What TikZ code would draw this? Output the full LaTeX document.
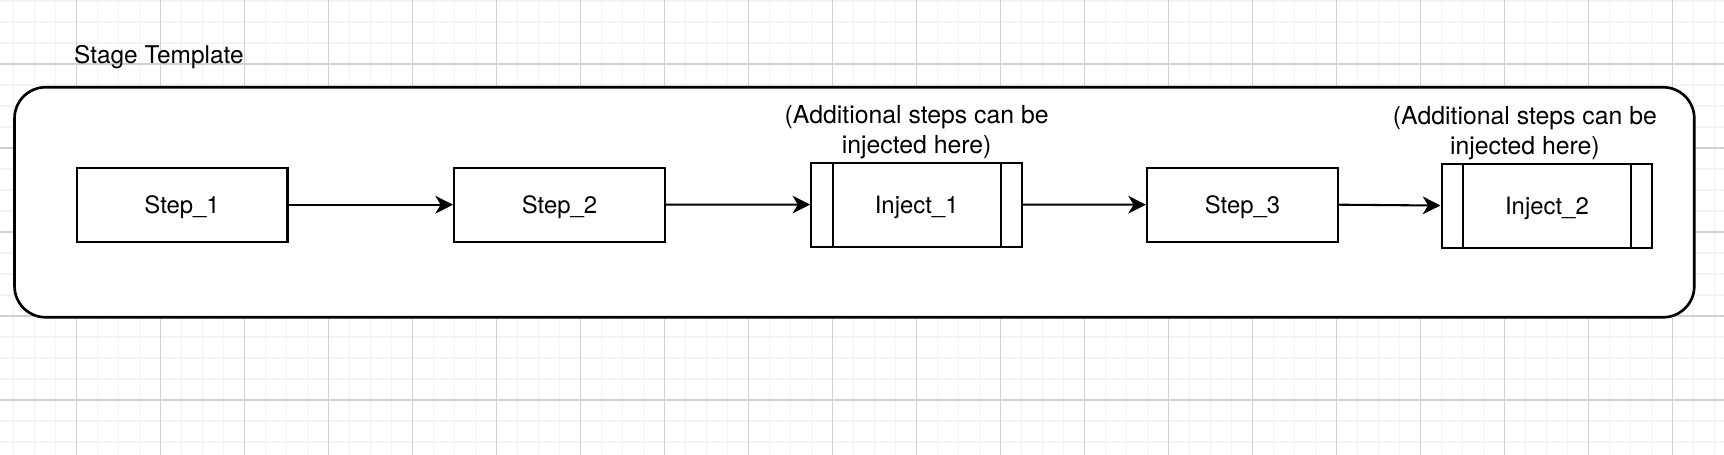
\documentclass[tikz,border=0pt]{standalone}
\usepackage{fontspec}
\setmainfont{TeX Gyre Heros}
\usetikzlibrary{positioning,arrows.meta}
\definecolor{gridmajor}{RGB}{208,208,208}
\definecolor{gridminor}{RGB}{243,243,243}

\begin{document}
\begin{tikzpicture}[
  font=\fontsize{8.26pt}{10.16pt}\selectfont,
  stagebox/.style={draw, line width=0.9pt, fill=white, rounded corners=0.37cm, minimum width=19.997cm, minimum height=2.738cm, inner sep=0pt},
  stepbox/.style={draw, line width=0.7pt, fill=white, minimum width=2.51cm, minimum height=0.88cm, inner sep=0pt, text depth=0pt,
    font=\fontsize{8.1pt}{10pt}\selectfont},
  injbox/.style={stepbox, minimum height=1.0cm,
    path picture={
      \draw[line width=0.7pt] ([xshift=0.255cm]path picture bounding box.north west) -- ([xshift=0.255cm]path picture bounding box.south west);
      \draw[line width=0.7pt] ([xshift=-0.255cm]path picture bounding box.north east) -- ([xshift=-0.255cm]path picture bounding box.south east);}},
  note/.style={align=center, inner sep=0pt, font=\fontsize{8.4pt}{9.96pt}\selectfont},
  flow/.style={-{Stealth[length=6pt, width=6pt, inset=1.8pt]}, line width=0.7pt},
]
\useasboundingbox (-0.913,-4.643) rectangle (19.611,0.762);
% background grid
\begin{scope}
\clip (-0.913,-4.643) rectangle (19.611,0.762);
\draw[gridminor, line width=0.5pt, step=0.25] (-1,-5) grid (20,1);
\draw[gridmajor, line width=0.35pt, step=1] (-1,-5) grid (20,1);
\end{scope}

\node[anchor=base west, inner sep=0pt] (title) at (-0.037,0.006) {Stage Template};
\node[stagebox] (stage) at (9.2585,-1.646) {};

% steps and injection points
\node[stepbox] (step1) at (1.255,-1.675) {Step\_1};
\node[stepbox] (step2) at (5.748,-1.675) {Step\_2};
\node[injbox] (inj1) at (10.0,-1.673) {Inject\_1};
\node[stepbox, minimum width=2.274cm] (step3) at (13.879,-1.675) {Step\_3};
\node[injbox] (inj2) at (17.503,-1.685) {Inject\_2};

\node[note, above=0.8pt of inj1] (note1) {(Additional steps can be\\injected here)};
\node[note, above=0.8pt of inj2, xshift=-0.262cm] (note2) {(Additional steps can be\\injected here)};

\draw[flow] (step1.east) -- (step2.west);
\draw[flow] (step2.east) -- (inj1.west);
\draw[flow] (inj1.east) -- (step3.west);
\draw[flow] (step3.east) -- (inj2.west);
\end{tikzpicture}
\end{document}
